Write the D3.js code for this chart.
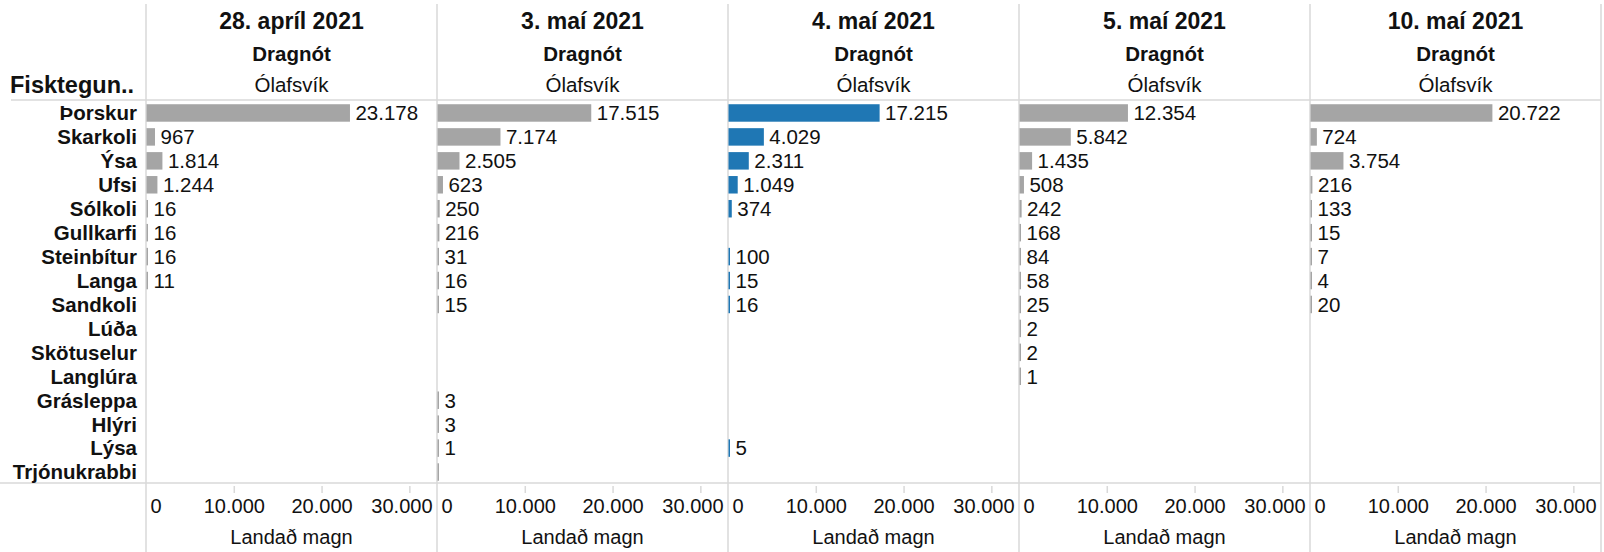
<!DOCTYPE html>
<html>
<head>
<meta charset="utf-8">
<script src="https://cdn.jsdelivr.net/npm/d3@7"></script>
<style>
  html, body { margin: 0; padding: 0; background: #fff; }
  svg { display: block; font-family: "Liberation Sans", Arial, sans-serif; }
</style>
</head>
<body>
<svg id="chart" width="1604" height="552"></svg>
<script>
// ---- Data ----
const species = ["Þorskur", "Skarkoli", "Ýsa", "Ufsi", "Sólkoli", "Gullkarfi", "Steinbítur", "Langa",
  "Sandkoli", "Lúða", "Skötuselur", "Langlúra", "Grásleppa", "Hlýri", "Lýsa", "Trjónukrabbi"];
const dates = ["28. apríl 2021", "3. maí 2021", "4. maí 2021", "5. maí 2021", "10. maí 2021"];
const gear = "Dragnót";
const harbour = "Ólafsvík";
const rowHeader = "Fisktegun..";
const axisTitle = "Landað magn";
const tickValues = [0, 10000, 20000, 30000];
const highlighted = "4. maí 2021";

const values_28apr = [23178, 967, 1814, 1244, 16, 16, 16, 11, null, null, null, null, null, null, null, null];
const values_3mai  = [17515, 7174, 2505, 623, 250, 216, 31, 16, 15, null, null, null, 3, 3, 1, 0.3];
const values_4mai  = [17215, 4029, 2311, 1049, 374, null, 100, 15, 16, null, null, null, null, null, 5, null];
const values_5mai  = [12354, 5842, 1435, 508, 242, 168, 84, 58, 25, 2, 2, 1, null, null, null, null];
const values_10mai = [20722, 724, 3754, 216, 133, 15, 7, 4, 20, null, null, null, null, null, null, null];
const seriesValues = [values_28apr, values_3mai, values_4mai, values_5mai, values_10mai];

// ---- Layout ----
const W = 1604, H = 552;
const panelLeft = 146, panelW = 291;
const headerLineY = 100, rowsTop = 101, rowsBottom = 484, bottomLineY = 483;
const gridColor = "#d9d9d9";
const textColor = "#111";

const svg = d3.select("#chart");
const locale = d3.formatLocale({ decimal: ",", thousands: ".", grouping: [3], currency: ["", " kr"] });
const fmt = locale.format(",d");

const panelScale = d3.scaleBand().domain(dates).range([panelLeft, panelLeft + panelW * dates.length]).padding(0);
const y = d3.scaleBand().domain(species).range([rowsTop, rowsBottom]).paddingInner(0.27).paddingOuter(0.135);
const x = d3.scaleLinear().domain([0, 33150]).range([0, panelW]);

// grid lines
svg.append("line").attr("x1", 11).attr("x2", panelLeft + panelW * dates.length)
  .attr("y1", headerLineY).attr("y2", headerLineY).attr("stroke", gridColor).attr("stroke-width", 1.5);
svg.append("line").attr("x1", 0).attr("x2", panelLeft + panelW * dates.length)
  .attr("y1", bottomLineY).attr("y2", bottomLineY).attr("stroke", gridColor).attr("stroke-width", 1.5);
const dividers = dates.map(d => panelScale(d)).concat([panelLeft + panelW * dates.length]);
svg.selectAll("line.div").data(dividers).join("line").attr("class", "div")
  .attr("x1", d => d).attr("x2", d => d).attr("y1", 4).attr("y2", H)
  .attr("stroke", gridColor).attr("stroke-width", 1.5);

// row header
svg.append("text").attr("x", 10).attr("y", 85).attr("dy", "0.35em")
  .attr("font-size", 23.5).attr("font-weight", "bold").attr("fill", textColor).text(rowHeader);

// row labels
svg.selectAll("text.row").data(species).join("text").attr("class", "row")
  .attr("x", 137).attr("y", d => y(d) + y.bandwidth() / 2).attr("dy", "0.36em")
  .attr("text-anchor", "end").attr("font-size", 20.5).attr("font-weight", "bold").attr("fill", textColor)
  .text(d => d);

// panels
dates.forEach((date, i) => {
  const g = svg.append("g").attr("transform", `translate(${panelScale(date)},0)`);
  const cx = panelW / 2;
  g.append("text").attr("x", cx).attr("y", 21).attr("dy", "0.35em").attr("text-anchor", "middle")
    .attr("font-size", 23).attr("font-weight", "bold").attr("fill", textColor).text(date);
  g.append("text").attr("x", cx).attr("y", 54).attr("dy", "0.35em").attr("text-anchor", "middle")
    .attr("font-size", 20.5).attr("font-weight", "bold").attr("fill", textColor).text(gear);
  g.append("text").attr("x", cx).attr("y", 85).attr("dy", "0.35em").attr("text-anchor", "middle")
    .attr("font-size", 20.5).attr("fill", textColor).text(harbour);

  const rows = species.map((s, j) => ({ s, v: seriesValues[i][j] })).filter(d => d.v !== null);
  const color = date === highlighted ? "#1f77b4" : "#a5a5a5";
  g.selectAll("rect").data(rows).join("rect")
    .attr("x", x(0) + 0.5).attr("y", d => y(d.s))
    .attr("width", d => Math.max(x(d.v) - x(0), 1.5)).attr("height", y.bandwidth())
    .attr("fill", color);
  g.selectAll("text.val").data(rows.filter(d => d.v >= 0.5)).join("text").attr("class", "val")
    .attr("x", d => x(0) + Math.max(x(d.v) - x(0), 1.5) + 6)
    .attr("y", d => y(d.s) + y.bandwidth() / 2).attr("dy", "0.36em")
    .attr("font-size", 20.5).attr("fill", textColor).text(d => fmt(d.v));

  // axis
  const ax = g.append("g").attr("transform", `translate(0,486)`)
    .call(d3.axisBottom(x).tickValues(tickValues).tickFormat(fmt).tickSize(7).tickPadding(6));
  ax.select(".domain").remove();
  ax.selectAll(".tick line").attr("stroke", gridColor).attr("stroke-width", 1.5);
  ax.selectAll(".tick text").attr("font-size", 20).attr("fill", textColor)
    .attr("font-family", "Liberation Sans, Arial, sans-serif");
  ax.selectAll(".tick").filter(d => d === 0).select("line").remove();
  ax.selectAll(".tick text").each(function(d) {
    const t = d3.select(this);
    const w = this.getComputedTextLength();
    const pos = x(d);
    if (pos - w / 2 < 4) { t.attr("text-anchor", "start").attr("x", 4 - pos); }
    else if (pos + w / 2 > panelW - 5) { t.attr("text-anchor", "end").attr("x", panelW - 5 - pos); }
  });
  g.append("text").attr("x", cx).attr("y", 537).attr("dy", "0.35em").attr("text-anchor", "middle")
    .attr("font-size", 20).attr("fill", textColor).text(axisTitle);
});
</script>
</body>
</html>
